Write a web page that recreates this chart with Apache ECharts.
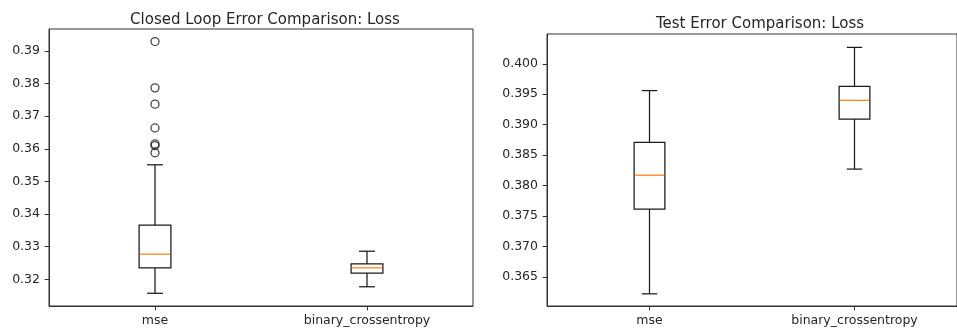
<!DOCTYPE html>
<html><head><meta charset="utf-8">
<script src="https://cdn.jsdelivr.net/npm/echarts@6/dist/echarts.min.js"></script>
<style>html,body{margin:0;padding:0;background:#fff}#c{width:957px;height:335px}</style>
</head><body><div id="c"></div>
<script>
const categories = ['mse', 'binary_crossentropy'];
// [low whisker, Q1, median, Q3, high whisker]
const leftStats = [
  [0.3157, 0.3235, 0.3277, 0.3366, 0.3551],
  [0.3177, 0.3219, 0.3235, 0.3247, 0.3286]
];
const leftOutliersMse = [0.3929, 0.3787, 0.3737, 0.3664, 0.3615, 0.3610, 0.3588];
const rightStats = [
  [0.3622, 0.3761, 0.3817, 0.3871, 0.3956],
  [0.3827, 0.3909, 0.3940, 0.3963, 0.4027]
];
const leftTitle = 'Closed Loop Error Comparison: Loss';
const rightTitle = 'Test Error Comparison: Loss';

const FONT = 'DejaVu Sans';
const INK = '#262626';
const LINE = '#1a1a1a';

function renderBox(params, api) {
  const ci = api.value(0);
  const lo = api.coord([ci, api.value(1)]);
  const q1 = api.coord([ci, api.value(2)]);
  const md = api.coord([ci, api.value(3)]);
  const q3 = api.coord([ci, api.value(4)]);
  const hi = api.coord([ci, api.value(5)]);
  const x = lo[0];
  const bw = api.size([1, 0])[0] * 0.15;
  const cw = bw / 2;
  const st = {stroke: LINE, lineWidth: 1.25, fill: null};
  const line = (x1, y1, x2, y2, s) => ({type: 'line', shape: {x1, y1, x2, y2}, style: s || st});
  return {
    type: 'group',
    children: [
      line(x, lo[1], x, q1[1]),
      line(x, q3[1], x, hi[1]),
      line(x - cw / 2, lo[1], x + cw / 2, lo[1]),
      line(x - cw / 2, hi[1], x + cw / 2, hi[1]),
      {type: 'rect', shape: {x: x - bw / 2, y: q3[1], width: bw, height: q1[1] - q3[1]}, style: st},
      line(x - bw / 2 + 0.6, md[1], x + bw / 2 - 0.6, md[1], {stroke: '#ff7f0e', lineWidth: 1.25})
    ]
  };
}

function boxData(stats) {
  return stats.map((s, i) => [i].concat(s));
}

function yAxisCfg(gi, min, max, split, digits) {
  return {
    type: 'value', gridIndex: gi, min: min, max: max, splitNumber: split, scale: true,
    splitLine: {show: false},
    axisLine: {show: true, lineStyle: {color: '#333', width: 1}},
    axisTick: {show: true, length: 4.4, lineStyle: {color: '#333', width: 1}},
    axisLabel: {show: true, showMinLabel: false, showMaxLabel: false, margin: 9,
      color: INK, fontFamily: FONT, fontSize: 12.5,
      formatter: v => v.toFixed(digits)}
  };
}
function xAxisCfg(gi) {
  return {
    type: 'category', gridIndex: gi, data: categories, boundaryGap: true,
    axisLine: {show: true, lineStyle: {color: '#333', width: 1}},
    axisTick: {show: true, alignWithLabel: true, length: 4.4, lineStyle: {color: '#333', width: 1}},
    axisLabel: {color: INK, fontFamily: FONT, fontSize: 12.5, margin: 8},
    splitLine: {show: false}
  };
}

const chart = echarts.init(document.getElementById('c'), null, {renderer: 'canvas'});
chart.setOption({
  animation: false,
  backgroundColor: '#fff',
  title: [
    {text: leftTitle, left: 260, top: 8, textAlign: 'center',
      textStyle: {fontFamily: FONT, fontSize: 15, fontWeight: 'normal', color: INK}},
    {text: rightTitle, left: 755, top: 12, textAlign: 'center',
      textStyle: {fontFamily: FONT, fontSize: 15, fontWeight: 'normal', color: INK}}
  ],
  grid: [
    {left: 49, top: 29, width: 424, height: 277, show: true, borderColor: '#333', borderWidth: 1, backgroundColor: 'transparent'},
    {left: 547, top: 34, width: 417, height: 272, show: true, borderColor: '#333', borderWidth: 1, backgroundColor: 'transparent'}
  ],
  xAxis: [xAxisCfg(0), xAxisCfg(1)],
  yAxis: [yAxisCfg(0, 0.3118, 0.39675, 8, 2), yAxisCfg(1, 0.3602, 0.4049, 9, 3)],
  series: [
    {type: 'custom', xAxisIndex: 0, yAxisIndex: 0, renderItem: renderBox,
      encode: {x: 0, y: [1, 2, 3, 4, 5]}, data: boxData(leftStats)},
    {type: 'scatter', xAxisIndex: 0, yAxisIndex: 0, symbol: 'circle', symbolSize: 8,
      itemStyle: {color: 'rgba(0,0,0,0)', borderColor: LINE, borderWidth: 1.3},
      data: leftOutliersMse.map(v => [categories[0], v])},
    {type: 'custom', xAxisIndex: 1, yAxisIndex: 1, renderItem: renderBox,
      encode: {x: 0, y: [1, 2, 3, 4, 5]}, data: boxData(rightStats)}
  ]
});
</script>
</body></html>
